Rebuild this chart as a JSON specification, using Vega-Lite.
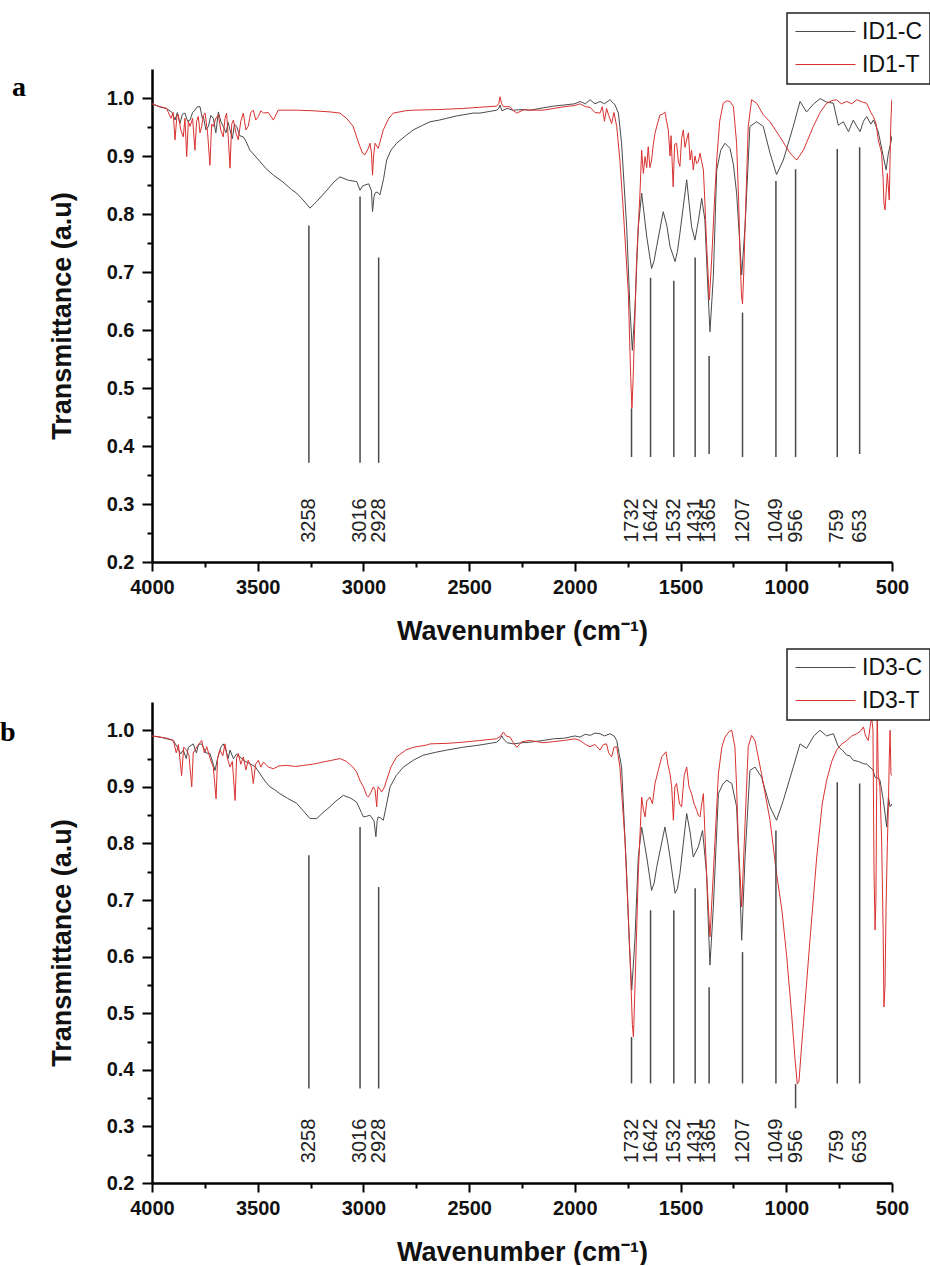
{
"$schema": "https://vega.github.io/schema/vega-lite/v6.json",
"padding": {"left": 0, "top": 12, "right": 0, "bottom": 0},
"background": "white",
"config": {
  "view": {"stroke": null},
  "axis": {"grid": false, "domainColor": "#000", "tickColor": "#000", "labelColor": "#111", "titleColor": "#111", "labelFont": "Liberation Sans", "titleFont": "Liberation Sans"},
  "legend": {"strokeWidth": 1.5}
},
"datasets": {
"specA": [
{"s":"ID1-C","w":4000,"t":0.99},{"s":"ID1-C","w":3986,"t":0.988},{"s":"ID1-C","w":3960,"t":0.984},{"s":"ID1-C","w":3931,"t":0.982},{"s":"ID1-C","w":3905,"t":0.975},{"s":"ID1-C","w":3891,"t":0.962},{"s":"ID1-C","w":3880,"t":0.975},{"s":"ID1-C","w":3868,"t":0.956},{"s":"ID1-C","w":3856,"t":0.972},{"s":"ID1-C","w":3844,"t":0.974},{"s":"ID1-C","w":3832,"t":0.96},{"s":"ID1-C","w":3820,"t":0.962},{"s":"ID1-C","w":3808,"t":0.975},{"s":"ID1-C","w":3797,"t":0.979},{"s":"ID1-C","w":3785,"t":0.985},{"s":"ID1-C","w":3773,"t":0.985},{"s":"ID1-C","w":3762,"t":0.965},{"s":"ID1-C","w":3757,"t":0.968},{"s":"ID1-C","w":3745,"t":0.945},{"s":"ID1-C","w":3733,"t":0.951},{"s":"ID1-C","w":3722,"t":0.97},{"s":"ID1-C","w":3710,"t":0.965},{"s":"ID1-C","w":3698,"t":0.94},{"s":"ID1-C","w":3686,"t":0.976},{"s":"ID1-C","w":3675,"t":0.96},{"s":"ID1-C","w":3663,"t":0.951},{"s":"ID1-C","w":3650,"t":0.94},{"s":"ID1-C","w":3640,"t":0.958},{"s":"ID1-C","w":3631,"t":0.945},{"s":"ID1-C","w":3620,"t":0.93},{"s":"ID1-C","w":3610,"t":0.955},{"s":"ID1-C","w":3600,"t":0.951},{"s":"ID1-C","w":3585,"t":0.935},{"s":"ID1-C","w":3568,"t":0.933},{"s":"ID1-C","w":3555,"t":0.925},{"s":"ID1-C","w":3537,"t":0.91},{"s":"ID1-C","w":3500,"t":0.895},{"s":"ID1-C","w":3460,"t":0.878},{"s":"ID1-C","w":3426,"t":0.867},{"s":"ID1-C","w":3380,"t":0.855},{"s":"ID1-C","w":3340,"t":0.842},{"s":"ID1-C","w":3316,"t":0.836},{"s":"ID1-C","w":3285,"t":0.824},{"s":"ID1-C","w":3253,"t":0.81},{"s":"ID1-C","w":3220,"t":0.822},{"s":"ID1-C","w":3180,"t":0.838},{"s":"ID1-C","w":3140,"t":0.855},{"s":"ID1-C","w":3111,"t":0.864},{"s":"ID1-C","w":3070,"t":0.858},{"s":"ID1-C","w":3032,"t":0.856},{"s":"ID1-C","w":3016,"t":0.841},{"s":"ID1-C","w":3005,"t":0.848},{"s":"ID1-C","w":2993,"t":0.85},{"s":"ID1-C","w":2975,"t":0.852},{"s":"ID1-C","w":2962,"t":0.84},{"s":"ID1-C","w":2957,"t":0.804},{"s":"ID1-C","w":2950,"t":0.83},{"s":"ID1-C","w":2945,"t":0.836},{"s":"ID1-C","w":2935,"t":0.838},{"s":"ID1-C","w":2922,"t":0.833},{"s":"ID1-C","w":2905,"t":0.86},{"s":"ID1-C","w":2890,"t":0.893},{"s":"ID1-C","w":2870,"t":0.91},{"s":"ID1-C","w":2843,"t":0.922},{"s":"ID1-C","w":2800,"t":0.935},{"s":"ID1-C","w":2764,"t":0.945},{"s":"ID1-C","w":2720,"t":0.953},{"s":"ID1-C","w":2685,"t":0.959},{"s":"ID1-C","w":2640,"t":0.962},{"s":"ID1-C","w":2606,"t":0.965},{"s":"ID1-C","w":2560,"t":0.969},{"s":"ID1-C","w":2528,"t":0.971},{"s":"ID1-C","w":2480,"t":0.974},{"s":"ID1-C","w":2449,"t":0.974},{"s":"ID1-C","w":2400,"t":0.977},{"s":"ID1-C","w":2370,"t":0.979},{"s":"ID1-C","w":2360,"t":0.982},{"s":"ID1-C","w":2354,"t":0.988},{"s":"ID1-C","w":2345,"t":0.978},{"s":"ID1-C","w":2320,"t":0.982},{"s":"ID1-C","w":2291,"t":0.979},{"s":"ID1-C","w":2250,"t":0.98},{"s":"ID1-C","w":2212,"t":0.979},{"s":"ID1-C","w":2150,"t":0.983},{"s":"ID1-C","w":2100,"t":0.986},{"s":"ID1-C","w":2050,"t":0.988},{"s":"ID1-C","w":2000,"t":0.99},{"s":"ID1-C","w":1976,"t":0.994},{"s":"ID1-C","w":1950,"t":0.99},{"s":"ID1-C","w":1928,"t":0.997},{"s":"ID1-C","w":1905,"t":0.99},{"s":"ID1-C","w":1881,"t":0.994},{"s":"ID1-C","w":1860,"t":0.99},{"s":"ID1-C","w":1834,"t":0.997},{"s":"ID1-C","w":1820,"t":0.992},{"s":"ID1-C","w":1810,"t":0.988},{"s":"ID1-C","w":1794,"t":0.974},{"s":"ID1-C","w":1779,"t":0.922},{"s":"ID1-C","w":1755,"t":0.778},{"s":"ID1-C","w":1739,"t":0.634},{"s":"ID1-C","w":1728,"t":0.565},{"s":"ID1-C","w":1716,"t":0.634},{"s":"ID1-C","w":1700,"t":0.778},{"s":"ID1-C","w":1684,"t":0.836},{"s":"ID1-C","w":1660,"t":0.761},{"s":"ID1-C","w":1637,"t":0.706},{"s":"ID1-C","w":1625,"t":0.72},{"s":"ID1-C","w":1613,"t":0.744},{"s":"ID1-C","w":1582,"t":0.804},{"s":"ID1-C","w":1565,"t":0.78},{"s":"ID1-C","w":1550,"t":0.744},{"s":"ID1-C","w":1526,"t":0.718},{"s":"ID1-C","w":1515,"t":0.735},{"s":"ID1-C","w":1503,"t":0.767},{"s":"ID1-C","w":1471,"t":0.859},{"s":"ID1-C","w":1460,"t":0.82},{"s":"ID1-C","w":1448,"t":0.778},{"s":"ID1-C","w":1432,"t":0.755},{"s":"ID1-C","w":1415,"t":0.79},{"s":"ID1-C","w":1400,"t":0.827},{"s":"ID1-C","w":1385,"t":0.79},{"s":"ID1-C","w":1372,"t":0.68},{"s":"ID1-C","w":1361,"t":0.597},{"s":"ID1-C","w":1345,"t":0.692},{"s":"ID1-C","w":1329,"t":0.876},{"s":"ID1-C","w":1310,"t":0.91},{"s":"ID1-C","w":1290,"t":0.922},{"s":"ID1-C","w":1266,"t":0.913},{"s":"ID1-C","w":1250,"t":0.885},{"s":"ID1-C","w":1235,"t":0.836},{"s":"ID1-C","w":1220,"t":0.75},{"s":"ID1-C","w":1211,"t":0.695},{"s":"ID1-C","w":1195,"t":0.778},{"s":"ID1-C","w":1172,"t":0.951},{"s":"ID1-C","w":1140,"t":0.959},{"s":"ID1-C","w":1109,"t":0.951},{"s":"ID1-C","w":1077,"t":0.905},{"s":"ID1-C","w":1046,"t":0.868},{"s":"ID1-C","w":1014,"t":0.893},{"s":"ID1-C","w":967,"t":0.951},{"s":"ID1-C","w":935,"t":0.994},{"s":"ID1-C","w":904,"t":0.976},{"s":"ID1-C","w":870,"t":0.99},{"s":"ID1-C","w":840,"t":0.999},{"s":"ID1-C","w":810,"t":0.993},{"s":"ID1-C","w":777,"t":0.991},{"s":"ID1-C","w":754,"t":0.953},{"s":"ID1-C","w":730,"t":0.959},{"s":"ID1-C","w":706,"t":0.942},{"s":"ID1-C","w":683,"t":0.962},{"s":"ID1-C","w":665,"t":0.95},{"s":"ID1-C","w":651,"t":0.942},{"s":"ID1-C","w":635,"t":0.96},{"s":"ID1-C","w":620,"t":0.968},{"s":"ID1-C","w":600,"t":0.955},{"s":"ID1-C","w":588,"t":0.962},{"s":"ID1-C","w":565,"t":0.942},{"s":"ID1-C","w":541,"t":0.899},{"s":"ID1-C","w":528,"t":0.876},{"s":"ID1-C","w":517,"t":0.905},{"s":"ID1-C","w":506,"t":0.922},{"s":"ID1-C","w":500,"t":0.935},
{"s":"ID1-T","w":4000,"t":0.99},{"s":"ID1-T","w":3986,"t":0.988},{"s":"ID1-T","w":3960,"t":0.985},{"s":"ID1-T","w":3931,"t":0.982},{"s":"ID1-T","w":3910,"t":0.965},{"s":"ID1-T","w":3900,"t":0.975},{"s":"ID1-T","w":3891,"t":0.928},{"s":"ID1-T","w":3882,"t":0.97},{"s":"ID1-T","w":3876,"t":0.971},{"s":"ID1-T","w":3864,"t":0.945},{"s":"ID1-T","w":3852,"t":0.933},{"s":"ID1-T","w":3844,"t":0.965},{"s":"ID1-T","w":3836,"t":0.899},{"s":"ID1-T","w":3828,"t":0.96},{"s":"ID1-T","w":3820,"t":0.951},{"s":"ID1-T","w":3808,"t":0.965},{"s":"ID1-T","w":3797,"t":0.91},{"s":"ID1-T","w":3789,"t":0.96},{"s":"ID1-T","w":3781,"t":0.968},{"s":"ID1-T","w":3773,"t":0.94},{"s":"ID1-T","w":3765,"t":0.951},{"s":"ID1-T","w":3757,"t":0.97},{"s":"ID1-T","w":3749,"t":0.974},{"s":"ID1-T","w":3737,"t":0.94},{"s":"ID1-T","w":3726,"t":0.884},{"s":"ID1-T","w":3718,"t":0.955},{"s":"ID1-T","w":3710,"t":0.951},{"s":"ID1-T","w":3698,"t":0.965},{"s":"ID1-T","w":3686,"t":0.971},{"s":"ID1-T","w":3675,"t":0.945},{"s":"ID1-T","w":3663,"t":0.933},{"s":"ID1-T","w":3655,"t":0.965},{"s":"ID1-T","w":3647,"t":0.974},{"s":"ID1-T","w":3639,"t":0.93},{"s":"ID1-T","w":3631,"t":0.879},{"s":"ID1-T","w":3623,"t":0.955},{"s":"ID1-T","w":3615,"t":0.962},{"s":"ID1-T","w":3603,"t":0.94},{"s":"ID1-T","w":3592,"t":0.928},{"s":"ID1-T","w":3580,"t":0.96},{"s":"ID1-T","w":3568,"t":0.974},{"s":"ID1-T","w":3556,"t":0.945},{"s":"ID1-T","w":3545,"t":0.951},{"s":"ID1-T","w":3533,"t":0.975},{"s":"ID1-T","w":3521,"t":0.979},{"s":"ID1-T","w":3509,"t":0.962},{"s":"ID1-T","w":3497,"t":0.968},{"s":"ID1-T","w":3485,"t":0.978},{"s":"ID1-T","w":3473,"t":0.974},{"s":"ID1-T","w":3450,"t":0.975},{"s":"ID1-T","w":3426,"t":0.962},{"s":"ID1-T","w":3403,"t":0.979},{"s":"ID1-T","w":3360,"t":0.979},{"s":"ID1-T","w":3316,"t":0.979},{"s":"ID1-T","w":3240,"t":0.978},{"s":"ID1-T","w":3158,"t":0.976},{"s":"ID1-T","w":3111,"t":0.974},{"s":"ID1-T","w":3080,"t":0.965},{"s":"ID1-T","w":3048,"t":0.951},{"s":"ID1-T","w":3030,"t":0.93},{"s":"ID1-T","w":3016,"t":0.916},{"s":"ID1-T","w":3005,"t":0.905},{"s":"ID1-T","w":2993,"t":0.902},{"s":"ID1-T","w":2977,"t":0.913},{"s":"ID1-T","w":2969,"t":0.922},{"s":"ID1-T","w":2962,"t":0.905},{"s":"ID1-T","w":2957,"t":0.867},{"s":"ID1-T","w":2952,"t":0.9},{"s":"ID1-T","w":2945,"t":0.922},{"s":"ID1-T","w":2930,"t":0.913},{"s":"ID1-T","w":2906,"t":0.945},{"s":"ID1-T","w":2880,"t":0.965},{"s":"ID1-T","w":2859,"t":0.974},{"s":"ID1-T","w":2800,"t":0.978},{"s":"ID1-T","w":2764,"t":0.979},{"s":"ID1-T","w":2650,"t":0.98},{"s":"ID1-T","w":2528,"t":0.982},{"s":"ID1-T","w":2450,"t":0.984},{"s":"ID1-T","w":2370,"t":0.986},{"s":"ID1-T","w":2360,"t":0.99},{"s":"ID1-T","w":2354,"t":1.002},{"s":"ID1-T","w":2346,"t":0.99},{"s":"ID1-T","w":2338,"t":0.985},{"s":"ID1-T","w":2307,"t":0.985},{"s":"ID1-T","w":2290,"t":0.978},{"s":"ID1-T","w":2275,"t":0.974},{"s":"ID1-T","w":2240,"t":0.98},{"s":"ID1-T","w":2212,"t":0.979},{"s":"ID1-T","w":2150,"t":0.979},{"s":"ID1-T","w":2100,"t":0.982},{"s":"ID1-T","w":2050,"t":0.985},{"s":"ID1-T","w":2000,"t":0.987},{"s":"ID1-T","w":1976,"t":0.99},{"s":"ID1-T","w":1950,"t":0.985},{"s":"ID1-T","w":1928,"t":0.984},{"s":"ID1-T","w":1905,"t":0.975},{"s":"ID1-T","w":1881,"t":0.974},{"s":"ID1-T","w":1870,"t":0.985},{"s":"ID1-T","w":1860,"t":0.96},{"s":"ID1-T","w":1850,"t":0.982},{"s":"ID1-T","w":1840,"t":0.97},{"s":"ID1-T","w":1826,"t":0.956},{"s":"ID1-T","w":1815,"t":0.975},{"s":"ID1-T","w":1802,"t":0.951},{"s":"ID1-T","w":1787,"t":0.893},{"s":"ID1-T","w":1771,"t":0.807},{"s":"ID1-T","w":1747,"t":0.663},{"s":"ID1-T","w":1736,"t":0.52},{"s":"ID1-T","w":1730,"t":0.465},{"s":"ID1-T","w":1724,"t":0.52},{"s":"ID1-T","w":1708,"t":0.721},{"s":"ID1-T","w":1692,"t":0.836},{"s":"ID1-T","w":1684,"t":0.91},{"s":"ID1-T","w":1676,"t":0.87},{"s":"ID1-T","w":1668,"t":0.899},{"s":"ID1-T","w":1660,"t":0.88},{"s":"ID1-T","w":1653,"t":0.916},{"s":"ID1-T","w":1645,"t":0.88},{"s":"ID1-T","w":1637,"t":0.893},{"s":"ID1-T","w":1629,"t":0.92},{"s":"ID1-T","w":1621,"t":0.939},{"s":"ID1-T","w":1610,"t":0.955},{"s":"ID1-T","w":1597,"t":0.971},{"s":"ID1-T","w":1585,"t":0.972},{"s":"ID1-T","w":1574,"t":0.976},{"s":"ID1-T","w":1566,"t":0.96},{"s":"ID1-T","w":1558,"t":0.945},{"s":"ID1-T","w":1550,"t":0.9},{"s":"ID1-T","w":1545,"t":0.935},{"s":"ID1-T","w":1535,"t":0.847},{"s":"ID1-T","w":1528,"t":0.92},{"s":"ID1-T","w":1519,"t":0.922},{"s":"ID1-T","w":1510,"t":0.89},{"s":"ID1-T","w":1503,"t":0.882},{"s":"ID1-T","w":1495,"t":0.93},{"s":"ID1-T","w":1487,"t":0.945},{"s":"ID1-T","w":1479,"t":0.915},{"s":"ID1-T","w":1471,"t":0.928},{"s":"ID1-T","w":1463,"t":0.94},{"s":"ID1-T","w":1455,"t":0.893},{"s":"ID1-T","w":1448,"t":0.91},{"s":"ID1-T","w":1440,"t":0.876},{"s":"ID1-T","w":1432,"t":0.9},{"s":"ID1-T","w":1424,"t":0.887},{"s":"ID1-T","w":1416,"t":0.89},{"s":"ID1-T","w":1408,"t":0.905},{"s":"ID1-T","w":1400,"t":0.89},{"s":"ID1-T","w":1392,"t":0.876},{"s":"ID1-T","w":1385,"t":0.82},{"s":"ID1-T","w":1377,"t":0.749},{"s":"ID1-T","w":1364,"t":0.652},{"s":"ID1-T","w":1353,"t":0.721},{"s":"ID1-T","w":1340,"t":0.82},{"s":"ID1-T","w":1329,"t":0.893},{"s":"ID1-T","w":1315,"t":0.96},{"s":"ID1-T","w":1298,"t":0.991},{"s":"ID1-T","w":1282,"t":0.995},{"s":"ID1-T","w":1266,"t":0.994},{"s":"ID1-T","w":1250,"t":0.985},{"s":"ID1-T","w":1235,"t":0.922},{"s":"ID1-T","w":1225,"t":0.82},{"s":"ID1-T","w":1219,"t":0.732},{"s":"ID1-T","w":1212,"t":0.66},{"s":"ID1-T","w":1207,"t":0.645},{"s":"ID1-T","w":1201,"t":0.7},{"s":"ID1-T","w":1195,"t":0.778},{"s":"ID1-T","w":1180,"t":0.951},{"s":"ID1-T","w":1164,"t":0.997},{"s":"ID1-T","w":1140,"t":0.991},{"s":"ID1-T","w":1109,"t":0.971},{"s":"ID1-T","w":1077,"t":0.959},{"s":"ID1-T","w":1030,"t":0.933},{"s":"ID1-T","w":982,"t":0.905},{"s":"ID1-T","w":951,"t":0.893},{"s":"ID1-T","w":919,"t":0.91},{"s":"ID1-T","w":872,"t":0.951},{"s":"ID1-T","w":840,"t":0.975},{"s":"ID1-T","w":809,"t":0.991},{"s":"ID1-T","w":780,"t":0.996},{"s":"ID1-T","w":762,"t":0.997},{"s":"ID1-T","w":740,"t":0.99},{"s":"ID1-T","w":714,"t":0.994},{"s":"ID1-T","w":690,"t":0.99},{"s":"ID1-T","w":667,"t":0.997},{"s":"ID1-T","w":640,"t":0.993},{"s":"ID1-T","w":620,"t":0.991},{"s":"ID1-T","w":600,"t":0.975},{"s":"ID1-T","w":588,"t":0.968},{"s":"ID1-T","w":575,"t":0.955},{"s":"ID1-T","w":565,"t":0.928},{"s":"ID1-T","w":549,"t":0.905},{"s":"ID1-T","w":542,"t":0.86},{"s":"ID1-T","w":538,"t":0.818},{"s":"ID1-T","w":533,"t":0.807},{"s":"ID1-T","w":522,"t":0.87},{"s":"ID1-T","w":513,"t":0.824},{"s":"ID1-T","w":506,"t":0.951},{"s":"ID1-T","w":501,"t":0.997}
],
"specB": [
{"s":"ID3-C","w":4000,"t":0.99},{"s":"ID3-C","w":3962,"t":0.988},{"s":"ID3-C","w":3930,"t":0.985},{"s":"ID3-C","w":3899,"t":0.982},{"s":"ID3-C","w":3880,"t":0.97},{"s":"ID3-C","w":3865,"t":0.958},{"s":"ID3-C","w":3852,"t":0.965},{"s":"ID3-C","w":3838,"t":0.95},{"s":"ID3-C","w":3828,"t":0.97},{"s":"ID3-C","w":3805,"t":0.976},{"s":"ID3-C","w":3790,"t":0.96},{"s":"ID3-C","w":3780,"t":0.975},{"s":"ID3-C","w":3765,"t":0.976},{"s":"ID3-C","w":3745,"t":0.96},{"s":"ID3-C","w":3726,"t":0.959},{"s":"ID3-C","w":3710,"t":0.94},{"s":"ID3-C","w":3702,"t":0.929},{"s":"ID3-C","w":3690,"t":0.95},{"s":"ID3-C","w":3675,"t":0.97},{"s":"ID3-C","w":3663,"t":0.976},{"s":"ID3-C","w":3650,"t":0.965},{"s":"ID3-C","w":3640,"t":0.95},{"s":"ID3-C","w":3631,"t":0.965},{"s":"ID3-C","w":3615,"t":0.95},{"s":"ID3-C","w":3600,"t":0.958},{"s":"ID3-C","w":3584,"t":0.953},{"s":"ID3-C","w":3560,"t":0.945},{"s":"ID3-C","w":3537,"t":0.941},{"s":"ID3-C","w":3510,"t":0.935},{"s":"ID3-C","w":3489,"t":0.923},{"s":"ID3-C","w":3465,"t":0.91},{"s":"ID3-C","w":3442,"t":0.9},{"s":"ID3-C","w":3420,"t":0.895},{"s":"ID3-C","w":3395,"t":0.888},{"s":"ID3-C","w":3360,"t":0.88},{"s":"ID3-C","w":3316,"t":0.871},{"s":"ID3-C","w":3285,"t":0.858},{"s":"ID3-C","w":3253,"t":0.844},{"s":"ID3-C","w":3221,"t":0.844},{"s":"ID3-C","w":3190,"t":0.855},{"s":"ID3-C","w":3158,"t":0.865},{"s":"ID3-C","w":3130,"t":0.875},{"s":"ID3-C","w":3095,"t":0.885},{"s":"ID3-C","w":3060,"t":0.88},{"s":"ID3-C","w":3032,"t":0.873},{"s":"ID3-C","w":3010,"t":0.855},{"s":"ID3-C","w":3000,"t":0.847},{"s":"ID3-C","w":2985,"t":0.848},{"s":"ID3-C","w":2969,"t":0.85},{"s":"ID3-C","w":2950,"t":0.84},{"s":"ID3-C","w":2941,"t":0.812},{"s":"ID3-C","w":2935,"t":0.84},{"s":"ID3-C","w":2930,"t":0.847},{"s":"ID3-C","w":2918,"t":0.845},{"s":"ID3-C","w":2906,"t":0.841},{"s":"ID3-C","w":2890,"t":0.87},{"s":"ID3-C","w":2874,"t":0.9},{"s":"ID3-C","w":2845,"t":0.92},{"s":"ID3-C","w":2811,"t":0.935},{"s":"ID3-C","w":2760,"t":0.948},{"s":"ID3-C","w":2717,"t":0.956},{"s":"ID3-C","w":2660,"t":0.961},{"s":"ID3-C","w":2606,"t":0.965},{"s":"ID3-C","w":2530,"t":0.97},{"s":"ID3-C","w":2449,"t":0.974},{"s":"ID3-C","w":2400,"t":0.977},{"s":"ID3-C","w":2370,"t":0.979},{"s":"ID3-C","w":2355,"t":0.984},{"s":"ID3-C","w":2345,"t":0.99},{"s":"ID3-C","w":2338,"t":0.985},{"s":"ID3-C","w":2320,"t":0.978},{"s":"ID3-C","w":2291,"t":0.976},{"s":"ID3-C","w":2250,"t":0.978},{"s":"ID3-C","w":2212,"t":0.979},{"s":"ID3-C","w":2150,"t":0.982},{"s":"ID3-C","w":2100,"t":0.985},{"s":"ID3-C","w":2050,"t":0.986},{"s":"ID3-C","w":2000,"t":0.99},{"s":"ID3-C","w":1976,"t":0.988},{"s":"ID3-C","w":1950,"t":0.993},{"s":"ID3-C","w":1928,"t":0.991},{"s":"ID3-C","w":1905,"t":0.995},{"s":"ID3-C","w":1881,"t":0.994},{"s":"ID3-C","w":1860,"t":0.99},{"s":"ID3-C","w":1834,"t":0.994},{"s":"ID3-C","w":1815,"t":0.99},{"s":"ID3-C","w":1802,"t":0.982},{"s":"ID3-C","w":1779,"t":0.935},{"s":"ID3-C","w":1755,"t":0.747},{"s":"ID3-C","w":1742,"t":0.62},{"s":"ID3-C","w":1731,"t":0.541},{"s":"ID3-C","w":1716,"t":0.629},{"s":"ID3-C","w":1700,"t":0.776},{"s":"ID3-C","w":1684,"t":0.829},{"s":"ID3-C","w":1660,"t":0.776},{"s":"ID3-C","w":1637,"t":0.717},{"s":"ID3-C","w":1625,"t":0.73},{"s":"ID3-C","w":1613,"t":0.758},{"s":"ID3-C","w":1574,"t":0.829},{"s":"ID3-C","w":1560,"t":0.8},{"s":"ID3-C","w":1550,"t":0.776},{"s":"ID3-C","w":1526,"t":0.712},{"s":"ID3-C","w":1515,"t":0.72},{"s":"ID3-C","w":1503,"t":0.747},{"s":"ID3-C","w":1471,"t":0.853},{"s":"ID3-C","w":1455,"t":0.82},{"s":"ID3-C","w":1440,"t":0.776},{"s":"ID3-C","w":1428,"t":0.785},{"s":"ID3-C","w":1416,"t":0.794},{"s":"ID3-C","w":1396,"t":0.823},{"s":"ID3-C","w":1377,"t":0.747},{"s":"ID3-C","w":1368,"t":0.65},{"s":"ID3-C","w":1361,"t":0.585},{"s":"ID3-C","w":1345,"t":0.688},{"s":"ID3-C","w":1321,"t":0.888},{"s":"ID3-C","w":1300,"t":0.905},{"s":"ID3-C","w":1282,"t":0.912},{"s":"ID3-C","w":1258,"t":0.906},{"s":"ID3-C","w":1235,"t":0.865},{"s":"ID3-C","w":1222,"t":0.75},{"s":"ID3-C","w":1211,"t":0.629},{"s":"ID3-C","w":1195,"t":0.776},{"s":"ID3-C","w":1172,"t":0.929},{"s":"ID3-C","w":1148,"t":0.935},{"s":"ID3-C","w":1117,"t":0.917},{"s":"ID3-C","w":1077,"t":0.865},{"s":"ID3-C","w":1046,"t":0.841},{"s":"ID3-C","w":1014,"t":0.876},{"s":"ID3-C","w":967,"t":0.935},{"s":"ID3-C","w":935,"t":0.976},{"s":"ID3-C","w":904,"t":0.968},{"s":"ID3-C","w":870,"t":0.99},{"s":"ID3-C","w":840,"t":1.0},{"s":"ID3-C","w":810,"t":0.99},{"s":"ID3-C","w":777,"t":0.994},{"s":"ID3-C","w":754,"t":0.971},{"s":"ID3-C","w":735,"t":0.965},{"s":"ID3-C","w":714,"t":0.956},{"s":"ID3-C","w":700,"t":0.955},{"s":"ID3-C","w":683,"t":0.947},{"s":"ID3-C","w":660,"t":0.945},{"s":"ID3-C","w":635,"t":0.941},{"s":"ID3-C","w":620,"t":0.94},{"s":"ID3-C","w":604,"t":0.935},{"s":"ID3-C","w":590,"t":0.93},{"s":"ID3-C","w":580,"t":0.917},{"s":"ID3-C","w":565,"t":0.915},{"s":"ID3-C","w":557,"t":0.912},{"s":"ID3-C","w":541,"t":0.876},{"s":"ID3-C","w":525,"t":0.829},{"s":"ID3-C","w":517,"t":0.882},{"s":"ID3-C","w":509,"t":0.865},{"s":"ID3-C","w":500,"t":0.87},
{"s":"ID3-T","w":4000,"t":0.99},{"s":"ID3-T","w":3962,"t":0.988},{"s":"ID3-T","w":3930,"t":0.986},{"s":"ID3-T","w":3899,"t":0.982},{"s":"ID3-T","w":3885,"t":0.96},{"s":"ID3-T","w":3875,"t":0.975},{"s":"ID3-T","w":3860,"t":0.92},{"s":"ID3-T","w":3850,"t":0.97},{"s":"ID3-T","w":3836,"t":0.965},{"s":"ID3-T","w":3825,"t":0.955},{"s":"ID3-T","w":3812,"t":0.9},{"s":"ID3-T","w":3805,"t":0.96},{"s":"ID3-T","w":3797,"t":0.965},{"s":"ID3-T","w":3780,"t":0.975},{"s":"ID3-T","w":3765,"t":0.982},{"s":"ID3-T","w":3752,"t":0.96},{"s":"ID3-T","w":3741,"t":0.971},{"s":"ID3-T","w":3725,"t":0.95},{"s":"ID3-T","w":3710,"t":0.935},{"s":"ID3-T","w":3697,"t":0.879},{"s":"ID3-T","w":3690,"t":0.95},{"s":"ID3-T","w":3678,"t":0.965},{"s":"ID3-T","w":3665,"t":0.955},{"s":"ID3-T","w":3655,"t":0.976},{"s":"ID3-T","w":3643,"t":0.95},{"s":"ID3-T","w":3631,"t":0.935},{"s":"ID3-T","w":3620,"t":0.945},{"s":"ID3-T","w":3607,"t":0.876},{"s":"ID3-T","w":3600,"t":0.95},{"s":"ID3-T","w":3592,"t":0.959},{"s":"ID3-T","w":3580,"t":0.94},{"s":"ID3-T","w":3568,"t":0.953},{"s":"ID3-T","w":3556,"t":0.93},{"s":"ID3-T","w":3545,"t":0.947},{"s":"ID3-T","w":3530,"t":0.935},{"s":"ID3-T","w":3521,"t":0.906},{"s":"ID3-T","w":3510,"t":0.94},{"s":"ID3-T","w":3497,"t":0.947},{"s":"ID3-T","w":3485,"t":0.935},{"s":"ID3-T","w":3473,"t":0.944},{"s":"ID3-T","w":3450,"t":0.935},{"s":"ID3-T","w":3426,"t":0.932},{"s":"ID3-T","w":3400,"t":0.937},{"s":"ID3-T","w":3363,"t":0.938},{"s":"ID3-T","w":3320,"t":0.936},{"s":"ID3-T","w":3284,"t":0.938},{"s":"ID3-T","w":3240,"t":0.94},{"s":"ID3-T","w":3190,"t":0.944},{"s":"ID3-T","w":3150,"t":0.947},{"s":"ID3-T","w":3111,"t":0.95},{"s":"ID3-T","w":3080,"t":0.945},{"s":"ID3-T","w":3050,"t":0.935},{"s":"ID3-T","w":3032,"t":0.926},{"s":"ID3-T","w":3015,"t":0.91},{"s":"ID3-T","w":3000,"t":0.9},{"s":"ID3-T","w":2985,"t":0.885},{"s":"ID3-T","w":2977,"t":0.882},{"s":"ID3-T","w":2965,"t":0.89},{"s":"ID3-T","w":2953,"t":0.9},{"s":"ID3-T","w":2945,"t":0.895},{"s":"ID3-T","w":2937,"t":0.865},{"s":"ID3-T","w":2933,"t":0.895},{"s":"ID3-T","w":2930,"t":0.9},{"s":"ID3-T","w":2914,"t":0.891},{"s":"ID3-T","w":2900,"t":0.9},{"s":"ID3-T","w":2890,"t":0.912},{"s":"ID3-T","w":2870,"t":0.935},{"s":"ID3-T","w":2843,"t":0.953},{"s":"ID3-T","w":2800,"t":0.965},{"s":"ID3-T","w":2764,"t":0.97},{"s":"ID3-T","w":2700,"t":0.974},{"s":"ID3-T","w":2685,"t":0.976},{"s":"ID3-T","w":2600,"t":0.977},{"s":"ID3-T","w":2528,"t":0.979},{"s":"ID3-T","w":2450,"t":0.982},{"s":"ID3-T","w":2370,"t":0.985},{"s":"ID3-T","w":2350,"t":0.99},{"s":"ID3-T","w":2338,"t":0.997},{"s":"ID3-T","w":2325,"t":0.99},{"s":"ID3-T","w":2307,"t":0.988},{"s":"ID3-T","w":2290,"t":0.978},{"s":"ID3-T","w":2275,"t":0.97},{"s":"ID3-T","w":2250,"t":0.98},{"s":"ID3-T","w":2212,"t":0.982},{"s":"ID3-T","w":2150,"t":0.978},{"s":"ID3-T","w":2100,"t":0.98},{"s":"ID3-T","w":2050,"t":0.982},{"s":"ID3-T","w":2000,"t":0.985},{"s":"ID3-T","w":1976,"t":0.982},{"s":"ID3-T","w":1950,"t":0.975},{"s":"ID3-T","w":1928,"t":0.971},{"s":"ID3-T","w":1905,"t":0.975},{"s":"ID3-T","w":1881,"t":0.965},{"s":"ID3-T","w":1865,"t":0.975},{"s":"ID3-T","w":1850,"t":0.976},{"s":"ID3-T","w":1840,"t":0.96},{"s":"ID3-T","w":1826,"t":0.953},{"s":"ID3-T","w":1815,"t":0.97},{"s":"ID3-T","w":1802,"t":0.971},{"s":"ID3-T","w":1787,"t":0.935},{"s":"ID3-T","w":1763,"t":0.806},{"s":"ID3-T","w":1739,"t":0.6},{"s":"ID3-T","w":1728,"t":0.48},{"s":"ID3-T","w":1723,"t":0.458},{"s":"ID3-T","w":1716,"t":0.541},{"s":"ID3-T","w":1700,"t":0.747},{"s":"ID3-T","w":1684,"t":0.882},{"s":"ID3-T","w":1676,"t":0.86},{"s":"ID3-T","w":1668,"t":0.847},{"s":"ID3-T","w":1660,"t":0.875},{"s":"ID3-T","w":1645,"t":0.882},{"s":"ID3-T","w":1633,"t":0.87},{"s":"ID3-T","w":1621,"t":0.906},{"s":"ID3-T","w":1605,"t":0.93},{"s":"ID3-T","w":1589,"t":0.953},{"s":"ID3-T","w":1569,"t":0.962},{"s":"ID3-T","w":1560,"t":0.94},{"s":"ID3-T","w":1550,"t":0.923},{"s":"ID3-T","w":1542,"t":0.9},{"s":"ID3-T","w":1534,"t":0.841},{"s":"ID3-T","w":1527,"t":0.9},{"s":"ID3-T","w":1519,"t":0.906},{"s":"ID3-T","w":1505,"t":0.87},{"s":"ID3-T","w":1495,"t":0.865},{"s":"ID3-T","w":1483,"t":0.92},{"s":"ID3-T","w":1471,"t":0.935},{"s":"ID3-T","w":1460,"t":0.9},{"s":"ID3-T","w":1448,"t":0.888},{"s":"ID3-T","w":1436,"t":0.87},{"s":"ID3-T","w":1424,"t":0.859},{"s":"ID3-T","w":1416,"t":0.85},{"s":"ID3-T","w":1408,"t":0.847},{"s":"ID3-T","w":1400,"t":0.87},{"s":"ID3-T","w":1392,"t":0.888},{"s":"ID3-T","w":1385,"t":0.82},{"s":"ID3-T","w":1377,"t":0.747},{"s":"ID3-T","w":1361,"t":0.635},{"s":"ID3-T","w":1345,"t":0.747},{"s":"ID3-T","w":1321,"t":0.923},{"s":"ID3-T","w":1305,"t":0.97},{"s":"ID3-T","w":1290,"t":0.988},{"s":"ID3-T","w":1270,"t":0.998},{"s":"ID3-T","w":1258,"t":1.0},{"s":"ID3-T","w":1243,"t":0.971},{"s":"ID3-T","w":1235,"t":0.9},{"s":"ID3-T","w":1227,"t":0.806},{"s":"ID3-T","w":1211,"t":0.688},{"s":"ID3-T","w":1195,"t":0.835},{"s":"ID3-T","w":1180,"t":0.971},{"s":"ID3-T","w":1164,"t":0.991},{"s":"ID3-T","w":1148,"t":0.982},{"s":"ID3-T","w":1117,"t":0.923},{"s":"ID3-T","w":1077,"t":0.841},{"s":"ID3-T","w":1046,"t":0.747},{"s":"ID3-T","w":1020,"t":0.68},{"s":"ID3-T","w":998,"t":0.6},{"s":"ID3-T","w":975,"t":0.5},{"s":"ID3-T","w":959,"t":0.42},{"s":"ID3-T","w":948,"t":0.375},{"s":"ID3-T","w":940,"t":0.38},{"s":"ID3-T","w":930,"t":0.43},{"s":"ID3-T","w":919,"t":0.482},{"s":"ID3-T","w":888,"t":0.629},{"s":"ID3-T","w":856,"t":0.776},{"s":"ID3-T","w":830,"t":0.87},{"s":"ID3-T","w":809,"t":0.912},{"s":"ID3-T","w":785,"t":0.945},{"s":"ID3-T","w":762,"t":0.965},{"s":"ID3-T","w":740,"t":0.975},{"s":"ID3-T","w":714,"t":0.982},{"s":"ID3-T","w":690,"t":0.99},{"s":"ID3-T","w":667,"t":0.994},{"s":"ID3-T","w":650,"t":0.998},{"s":"ID3-T","w":635,"t":1.006},{"s":"ID3-T","w":625,"t":0.99},{"s":"ID3-T","w":612,"t":0.982},{"s":"ID3-T","w":604,"t":1.005},{"s":"ID3-T","w":596,"t":1.023},{"s":"ID3-T","w":590,"t":1.0},{"s":"ID3-T","w":585,"t":0.75},{"s":"ID3-T","w":580,"t":0.647},{"s":"ID3-T","w":576,"t":0.7},{"s":"ID3-T","w":570,"t":1.04},{"s":"ID3-T","w":565,"t":0.923},{"s":"ID3-T","w":557,"t":0.9},{"s":"ID3-T","w":549,"t":0.806},{"s":"ID3-T","w":542,"t":0.65},{"s":"ID3-T","w":538,"t":0.511},{"s":"ID3-T","w":533,"t":0.55},{"s":"ID3-T","w":528,"t":0.688},{"s":"ID3-T","w":522,"t":0.8},{"s":"ID3-T","w":517,"t":0.865},{"s":"ID3-T","w":513,"t":0.95},{"s":"ID3-T","w":509,"t":1.0},{"s":"ID3-T","w":505,"t":0.923},{"s":"ID3-T","w":501,"t":0.92}
],
"peaksA": [
{"w":3258,"top":0.78,"bot":0.371,"lab":"3258"},{"w":3016,"top":0.83,"bot":0.371,"lab":"3016"},{"w":2928,"top":0.725,"bot":0.371,"lab":"2928"},{"w":1732,"top":0.465,"bot":0.381,"lab":"1732"},{"w":1642,"top":0.69,"bot":0.381,"lab":"1642"},{"w":1532,"top":0.685,"bot":0.381,"lab":"1532"},{"w":1431,"top":0.725,"bot":0.381,"lab":"1431"},{"w":1365,"top":0.555,"bot":0.386,"lab":"1365"},{"w":1207,"top":0.63,"bot":0.381,"lab":"1207"},{"w":1049,"top":0.857,"bot":0.381,"lab":"1049"},{"w":956,"top":0.877,"bot":0.381,"lab":"956"},{"w":759,"top":0.912,"bot":0.381,"lab":"759"},{"w":653,"top":0.915,"bot":0.386,"lab":"653"}
],
"peaksB": [
{"w":3258,"top":0.779,"bot":0.367,"lab":"3258"},{"w":3016,"top":0.829,"bot":0.367,"lab":"3016"},{"w":2928,"top":0.723,"bot":0.367,"lab":"2928"},{"w":1732,"top":0.458,"bot":0.376,"lab":"1732"},{"w":1642,"top":0.682,"bot":0.376,"lab":"1642"},{"w":1532,"top":0.682,"bot":0.376,"lab":"1532"},{"w":1431,"top":0.721,"bot":0.376,"lab":"1431"},{"w":1365,"top":0.546,"bot":0.376,"lab":"1365"},{"w":1207,"top":0.608,"bot":0.376,"lab":"1207"},{"w":1049,"top":0.823,"bot":0.376,"lab":"1049"},{"w":956,"top":0.375,"bot":0.332,"lab":"956"},{"w":759,"top":0.908,"bot":0.376,"lab":"759"},{"w":653,"top":0.906,"bot":0.376,"lab":"653"}
]
},
"vconcat": [
{
  "width": 740, "height": 493,
  "title": {"text": "a", "anchor": "start", "frame": "group", "orient": "top", "font": "Liberation Serif", "fontSize": 28, "fontWeight": "bold", "color": "#000", "dx": -140, "dy": 90, "offset": 0},
  "layer": [
    {"data": {"name": "specA"}, "mark": {"type": "line", "strokeWidth": 1, "clip": true},
     "encoding": {
       "x": {"field": "w", "type": "quantitative", "scale": {"domain": [500, 4000], "reverse": true, "nice": false, "zero": false},
             "axis": {"orient": "bottom", "values": [4000,3500,3000,2500,2000,1500,1000,500], "format": "d", "title": "Wavenumber (cm⁻¹)", "titleFontSize": 27, "titleFontWeight": "bold", "titlePadding": 21, "labelFontSize": 20, "labelFontWeight": "bold", "labelPadding": 6, "tickSize": 9, "tickWidth": 2, "domainWidth": 2.5, "labelFlush": false, "labelOverlap": false}},
       "y": {"field": "t", "type": "quantitative", "scale": {"domain": [0.2, 1.05], "nice": false, "zero": false},
             "axis": {"orient": "left", "values": [0.2,0.3,0.4,0.5,0.6,0.7,0.8,0.9,1.0], "format": ".1f", "title": "Transmittance (a.u)", "titleFontSize": 27, "titleFontWeight": "bold", "titlePadding": 30, "labelFontSize": 20, "labelFontWeight": "bold", "labelPadding": 8, "tickSize": 10, "tickWidth": 2, "domainWidth": 2.5, "labelOverlap": false}},
       "color": {"field": "s", "type": "nominal", "scale": {"domain": ["ID1-C", "ID1-T"], "range": ["#4a4a4a", "#d9312f"]},
                 "legend": {"orient": "none", "legendX": 635, "legendY": -56, "title": null, "symbolType": "M-1,0H5", "symbolSize": 400, "symbolStrokeWidth": 1.2, "labelFontSize": 23, "labelFont": "Liberation Sans", "labelColor": "#111", "labelOffset": 45, "strokeColor": "#222", "fillColor": "white", "padding": 7, "rowPadding": 9}}
     }},
    {"data": {"name": "peaksA"}, "mark": {"type": "rule", "color": "#4a4a4a", "strokeWidth": 1.5},
     "encoding": {
       "x": {"field": "w", "type": "quantitative", "scale": {"domain": [500, 4000], "reverse": true, "nice": false, "zero": false},
             "axis": {"orient": "bottom", "values": [3750,3250,2750,2250,1750,1250,750], "labels": false, "domain": false, "title": null, "tickSize": 5, "tickWidth": 2}},
       "y": {"field": "top", "type": "quantitative", "scale": {"domain": [0.2, 1.05], "nice": false, "zero": false},
             "axis": {"orient": "left", "values": [0.25,0.35,0.45,0.55,0.65,0.75,0.85,0.95], "labels": false, "domain": false, "title": null, "tickSize": 5, "tickWidth": 2}},
       "y2": {"field": "bot"}
     }},
    {"data": {"name": "peaksA"}, "mark": {"type": "text", "angle": 270, "align": "left", "baseline": "middle", "fontSize": 20, "font": "Liberation Sans", "color": "#222"},
     "encoding": {
       "x": {"field": "w", "type": "quantitative", "scale": {"domain": [500, 4000], "reverse": true, "nice": false, "zero": false}, "axis": null},
       "y": {"datum": 0.233, "type": "quantitative", "scale": {"domain": [0.2, 1.05], "nice": false, "zero": false}, "axis": null},
       "text": {"field": "lab"}
     }}
  ],
  "resolve": {"axis": {"x": "independent", "y": "independent"}}
},
{
  "width": 740, "height": 481,
  "title": {"text": "b", "anchor": "start", "frame": "group", "orient": "top", "font": "Liberation Serif", "fontSize": 28, "fontWeight": "bold", "color": "#000", "dx": -152, "dy": 99, "offset": 0},
  "layer": [
    {"data": {"name": "specB"}, "mark": {"type": "line", "strokeWidth": 1, "clip": true},
     "encoding": {
       "x": {"field": "w", "type": "quantitative", "scale": {"domain": [500, 4000], "reverse": true, "nice": false, "zero": false},
             "axis": {"orient": "bottom", "values": [4000,3500,3000,2500,2000,1500,1000,500], "format": "d", "title": "Wavenumber (cm⁻¹)", "titleFontSize": 27, "titleFontWeight": "bold", "titlePadding": 21, "labelFontSize": 20, "labelFontWeight": "bold", "labelPadding": 6, "tickSize": 9, "tickWidth": 2, "domainWidth": 2.5, "labelFlush": false, "labelOverlap": false}},
       "y": {"field": "t", "type": "quantitative", "scale": {"domain": [0.2, 1.05], "nice": false, "zero": false},
             "axis": {"orient": "left", "values": [0.2,0.3,0.4,0.5,0.6,0.7,0.8,0.9,1.0], "format": ".1f", "title": "Transmittance (a.u)", "titleFontSize": 27, "titleFontWeight": "bold", "titlePadding": 30, "labelFontSize": 20, "labelFontWeight": "bold", "labelPadding": 8, "tickSize": 10, "tickWidth": 2, "domainWidth": 2.5, "labelOverlap": false}},
       "color": {"field": "s", "type": "nominal", "scale": {"domain": ["ID3-C", "ID3-T"], "range": ["#4a4a4a", "#d9312f"]},
                 "legend": {"orient": "none", "legendX": 635, "legendY": -53, "title": null, "symbolType": "M-1,0H5", "symbolSize": 400, "symbolStrokeWidth": 1.2, "labelFontSize": 23, "labelFont": "Liberation Sans", "labelColor": "#111", "labelOffset": 45, "strokeColor": "#222", "fillColor": "white", "padding": 7, "rowPadding": 9}}
     }},
    {"data": {"name": "peaksB"}, "mark": {"type": "rule", "color": "#4a4a4a", "strokeWidth": 1.5},
     "encoding": {
       "x": {"field": "w", "type": "quantitative", "scale": {"domain": [500, 4000], "reverse": true, "nice": false, "zero": false},
             "axis": {"orient": "bottom", "values": [3750,3250,2750,2250,1750,1250,750], "labels": false, "domain": false, "title": null, "tickSize": 5, "tickWidth": 2}},
       "y": {"field": "top", "type": "quantitative", "scale": {"domain": [0.2, 1.05], "nice": false, "zero": false},
             "axis": {"orient": "left", "values": [0.25,0.35,0.45,0.55,0.65,0.75,0.85,0.95], "labels": false, "domain": false, "title": null, "tickSize": 5, "tickWidth": 2}},
       "y2": {"field": "bot"}
     }},
    {"data": {"name": "peaksB"}, "mark": {"type": "text", "angle": 270, "align": "left", "baseline": "middle", "fontSize": 20, "font": "Liberation Sans", "color": "#222"},
     "encoding": {
       "x": {"field": "w", "type": "quantitative", "scale": {"domain": [500, 4000], "reverse": true, "nice": false, "zero": false}, "axis": null},
       "y": {"datum": 0.235, "type": "quantitative", "scale": {"domain": [0.2, 1.05], "nice": false, "zero": false}, "axis": null},
       "text": {"field": "lab"}
     }}
  ],
  "resolve": {"axis": {"x": "independent", "y": "independent"}}
}
],
"spacing": 140,
"bounds": "flush",
"resolve": {"scale": {"color": "independent", "y": "independent", "x": "independent"}, "legend": {"color": "independent"}}
}
